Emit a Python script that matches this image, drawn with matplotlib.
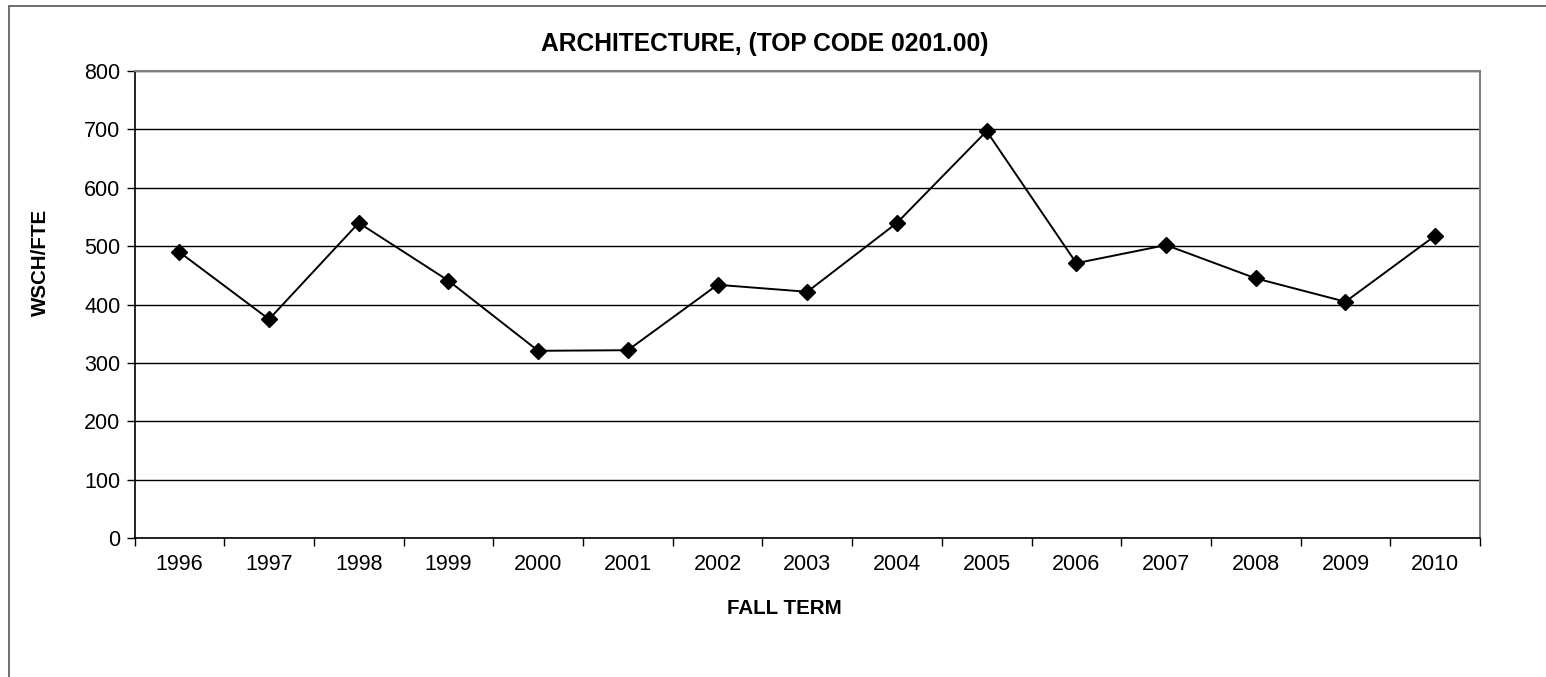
import matplotlib
matplotlib.use("Agg")
import matplotlib.pyplot as plt
from matplotlib.patches import Rectangle

plt.rcParams['font.family'] = ['Liberation Sans', 'DejaVu Sans']

years = ['1996', '1997', '1998', '1999', '2000', '2001', '2002', '2003',
         '2004', '2005', '2006', '2007', '2008', '2009', '2010']
wsch_fte = [490, 375, 540, 441, 321, 322, 434, 422,
            540, 697, 471, 502, 445, 405, 518]
y_ticks = [0, 100, 200, 300, 400, 500, 600, 700, 800]

W, H = 1546, 677
fig = plt.figure(figsize=(W / 100, H / 100), dpi=100)
ax = fig.add_axes([134.5 / W, 1 - 538.3 / H, (1480 - 134.5) / W, (538.3 - 71) / H])

x = list(range(len(years)))
ax.plot(x, wsch_fte, color='black', lw=1.4, marker='D', markersize=8, zorder=3)

ax.set_xlim(-0.5, len(years) - 0.5)
ax.set_ylim(0, 800)
ax.set_yticks(y_ticks)
ax.set_yticklabels([str(v) for v in y_ticks], fontsize=15.5)
ax.set_xticks(x)
ax.set_xticklabels(years, fontsize=15.5)
ax.set_xticks([i - 0.5 for i in range(len(years) + 1)], minor=True)
ax.tick_params(axis='x', which='major', length=0, pad=11)
ax.tick_params(axis='x', which='minor', length=6, width=1, color='black', direction='out')
ax.tick_params(axis='y', length=6, width=1, pad=4)

ax.grid(axis='y', color='black', lw=1)
ax.set_axisbelow(True)
for side in ['left', 'bottom']:
    ax.spines[side].set_color('black')
    ax.spines[side].set_linewidth(1.2)
for side in ['top', 'right']:
    ax.spines[side].set_color('#808080')
    ax.spines[side].set_linewidth(1.5)

fig.text(765 / W, 1 - 44 / H, 'ARCHITECTURE, (TOP CODE 0201.00)',
         ha='center', va='center', fontsize=17.7, fontweight='bold')
fig.text(784 / W, 1 - 608 / H, 'FALL TERM', ha='center', va='center',
         fontsize=14.8, fontweight='bold')
fig.text(40 / W, 1 - 262 / H, 'WSCH/FTE', ha='center', va='center',
         rotation=90, fontsize=14.8, fontweight='bold')

fig.add_artist(Rectangle((9 / W, -0.1), 1.2, 1.1 - 6 / H, transform=fig.transFigure,
                         fill=False, edgecolor='#555555', lw=1.2))

fig.savefig('out.png', dpi=100)
